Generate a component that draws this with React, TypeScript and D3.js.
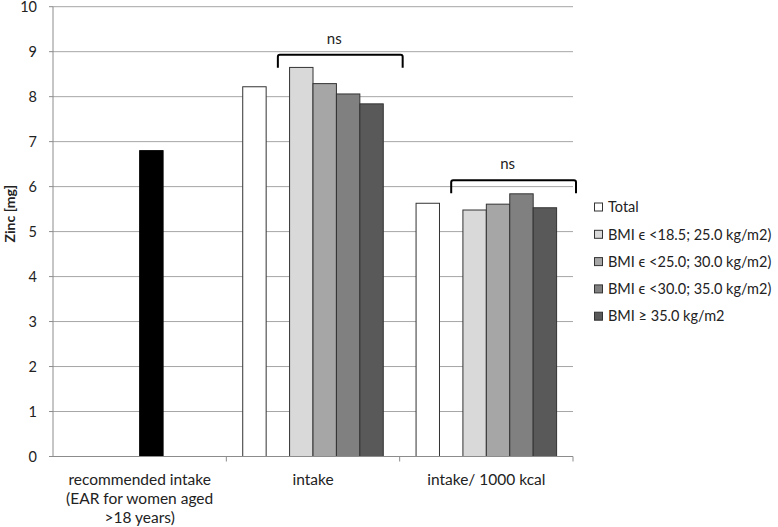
import React from "react";
import * as d3 from "d3";

// categories on the x axis (multi-line labels)
const categoryLabels = [
  ["recommended intake", "(EAR for women aged", ">18 years)"],
  ["intake"],
  ["intake/ 1000 kcal"],
];

// slots inside each category cluster (Excel-style, one blank slot)
const slots = ["Total", "blank", "bmi1", "bmi2", "bmi3", "bmi4"];

const seriesNames = [
  "Total",
  "BMI \u03f5 <18.5; 25.0 kg/m2)",
  "BMI \u03f5 <25.0; 30.0 kg/m2)",
  "BMI \u03f5 <30.0; 35.0 kg/m2)",
  "BMI \u2265 35.0 kg/m2",
];
const seriesColors = ["#ffffff", "#d9d9d9", "#a6a6a6", "#808080", "#595959"];
const seriesSlots = ["Total", "bmi1", "bmi2", "bmi3", "bmi4"];

// values per category (null = no bar)
const totalValues = [null, 8.22, 5.63];
const bmi1Values = [null, 8.65, 5.48];
const bmi2Values = [null, 8.29, 5.61];
const bmi3Values = [null, 8.06, 5.84];
const bmi4Values = [null, 7.84, 5.53];
const seriesValues = [totalValues, bmi1Values, bmi2Values, bmi3Values, bmi4Values];

// recommended intake (EAR) - single black bar in first category
const recommendedValue = 6.8;
const recommendedSlot = "bmi2";

// "ns" brackets over the BMI groups
const bracketCategories = [1, 2];
const bracketLevels = [8.93, 6.14];

const yTicks = [0, 1, 2, 3, 4, 5, 6, 7, 8, 9, 10];

const W = 778;
const H = 527;
const margin = { left: 53, right: 205, top: 6.7, bottom: 70.5 };
const font = "Lato, 'Open Sans', sans-serif";

const App = () => {
  const x = d3
    .scaleBand<number>()
    .domain(categoryLabels.map((_, i) => i))
    .range([margin.left, W - margin.right]);

  const inner = d3
    .scaleBand<string>()
    .domain(slots)
    .range([0, x.bandwidth()])
    .paddingOuter(0.7);

  const y = d3
    .scaleLinear()
    .domain([0, 10])
    .range([H - margin.bottom, margin.top]);

  const x0 = margin.left;
  const x1 = W - margin.right;

  return (
    <div style={{ position: "absolute", left: 0, top: 0 }}>
      <svg width={W} height={H} style={{ display: "block", background: "#fff" }}>
        {/* gridlines */}
        {yTicks.map((t) => (
          <line
            key={"g" + t}
            x1={x0}
            x2={x1}
            y1={y(t)}
            y2={y(t)}
            stroke="#a6a6a6"
            strokeWidth={1}
          />
        ))}
        {/* y axis */}
        <line x1={x0} x2={x0} y1={y(10)} y2={y(0)} stroke="#8c8c8c" />
        {yTicks.map((t) => (
          <g key={"t" + t}>
            <line x1={x0 - 4} x2={x0} y1={y(t)} y2={y(t)} stroke="#8c8c8c" />
            <text
              x={37}
              y={y(t)}
              dy="0.36em"
              textAnchor="end"
              fontFamily={font}
              fontSize={14.5}
              fill="#222"
            >
              {t}
            </text>
          </g>
        ))}
        <text
          transform={`translate(14.5, ${y(5.4)}) rotate(-90)`}
          textAnchor="middle"
          fontFamily={font}
          fontSize={14}
          fontWeight="bold"
          fill="#222"
        >
          Zinc [mg]
        </text>

        {/* bars */}
        <rect
          x={(x(0) ?? 0) + (inner(recommendedSlot) ?? 0)}
          y={y(recommendedValue)}
          width={inner.bandwidth()}
          height={y(0) - y(recommendedValue)}
          fill="#000"
          stroke="#000"
        />
        {seriesValues.map((vals, si) =>
          vals.map((v, ci) =>
            v == null ? null : (
              <rect
                key={`b${si}-${ci}`}
                x={(x(ci) ?? 0) + (inner(seriesSlots[si]) ?? 0)}
                y={y(v)}
                width={inner.bandwidth()}
                height={y(0) - y(v)}
                fill={seriesColors[si]}
                stroke="#333"
                strokeWidth={1}
              />
            )
          )
        )}

        {/* x axis */}
        <line x1={x0} x2={x1} y1={y(0)} y2={y(0)} stroke="#8c8c8c" />
        {categoryLabels.map((_, i) => (
          <line
            key={"xt" + i}
            x1={(x(i) ?? 0) + x.bandwidth()}
            x2={(x(i) ?? 0) + x.bandwidth()}
            y1={y(0)}
            y2={y(0) + 5}
            stroke="#8c8c8c"
          />
        ))}
        {categoryLabels.map((lines, i) => (
          <text
            key={"xl" + i}
            textAnchor="middle"
            fontFamily={font}
            fontSize={15.5}
            fill="#222"
          >
            {lines.map((l, j) => (
              <tspan
                key={j}
                x={(x(i) ?? 0) + x.bandwidth() / 2}
                y={y(0) + 28 + j * 19}
              >
                {l}
              </tspan>
            ))}
          </text>
        ))}

        {/* ns brackets */}
        {bracketCategories.map((ci, k) => {
          const bx0 = (x(ci) ?? 0) + (inner("blank") ?? 0) + inner.bandwidth() / 2;
          const bx1 = (x(ci) ?? 0) + x.bandwidth() + 3;
          const by = y(bracketLevels[k]);
          return (
            <g key={"br" + k}>
              <path
                d={`M${bx0},${by + 13} V${by + 2} Q${bx0},${by} ${bx0 + 2},${by} H${bx1 - 2} Q${bx1},${by} ${bx1},${by + 2} V${by + 13}`}
                fill="none"
                stroke="#000"
                strokeWidth={2}
              />
              <text
                x={(bx0 + bx1) / 2 - 6}
                y={by - 11}
                textAnchor="middle"
                fontFamily={font}
                fontSize={15}
                fill="#222"
              >
                ns
              </text>
            </g>
          );
        })}

        {/* legend */}
        {seriesNames.map((name, i) => (
          <g key={"lg" + i} transform={`translate(594, ${207 + i * 27.3})`}>
            <rect
              x={0.5}
              y={-4}
              width={8}
              height={8}
              fill={seriesColors[i]}
              stroke="#333"
              strokeWidth={1}
            />
            <text
              x={14}
              y={0}
              dy="0.36em"
              fontFamily={font}
              fontSize={14.5}
              fill="#222"
            >
              {name}
            </text>
          </g>
        ))}
      </svg>
    </div>
  );
};

export default App;
